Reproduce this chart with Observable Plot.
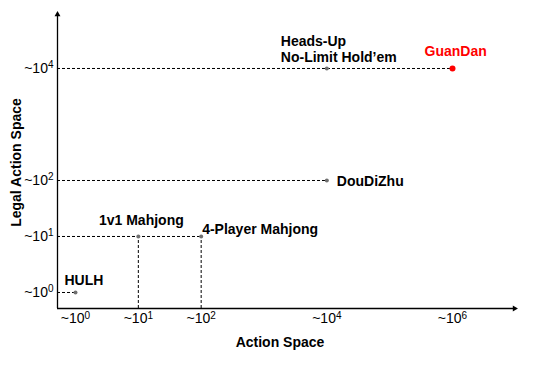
<!DOCTYPE html>
<html><head><meta charset="utf-8">
<script src="https://cdn.jsdelivr.net/npm/d3@7"></script>
<script src="https://cdn.jsdelivr.net/npm/@observablehq/plot@0.6"></script>
<style>body{margin:0;background:#fff} svg{display:block}</style>
</head><body><div id="chart"></div>
<script>
// ---- data ----
const games = ["HULH", "1v1 Mahjong", "4-Player Mahjong", "DouDiZhu", "Heads-Up\nNo-Limit Hold’em", "GuanDan"];
const actionSpace = [1, 10, 100, 1e4, 1e4, 1e6];
const legalActionSpace = [1, 10, 10, 100, 1e4, 1e4];
const verticalGuide = [false, true, true, false, false, false];
const xTicks = [1, 10, 100, 1e4, 1e6];
const yTicks = [1, 10, 100, 1e4];
const xTitle = "Action Space";
const yTitle = "Legal Action Space";
const highlight = "GuanDan";

// ---- build table ----
const data = games.map((name, i) => ({name, x: actionSpace[i], y: legalActionSpace[i], v: verticalGuide[i]}));

// axis extents (the drawn axes run a bit past the first/last tick)
const xMin = Math.pow(10, -0.2865), xMax = Math.pow(10, 6.987);
const yMin = Math.pow(10, -0.2857), yMax = Math.pow(10, 4.964);

const font = "'Liberation Sans', Arial, Helvetica, sans-serif";
const labelStyle = {
  "HULH": {textAnchor: "start", dx: -11, dy: -13},
  "1v1 Mahjong": {textAnchor: "middle", dx: 3, dy: -17},
  "4-Player Mahjong": {textAnchor: "start", dx: 1, dy: -8},
  "DouDiZhu": {textAnchor: "start", dx: 10, dy: 0},
  "Heads-Up\nNo-Limit Hold’em": {textAnchor: "start", dx: -46, dy: -20},
  "GuanDan": {textAnchor: "start", dx: -28, dy: -18, fill: "#ff0000"}
};

const fmt = d => "~10^" + Math.round(Math.log10(d));

const labelMarks = data.map(d => Plot.text([d], {
  x: "x", y: "y", text: "name",
  fontWeight: "bold", fontSize: 14, lineHeight: 1.15,
  fill: "#000",
  ...labelStyle[d.name]
}));

const chart = Plot.plot({
  width: 534,
  height: 384,
  marginLeft: 57,
  marginRight: 20,
  marginTop: 14,
  marginBottom: 76,
  style: {fontFamily: font, fontSize: "14px", background: "#fff", color: "#000"},
  x: {type: "log", domain: [xMin, xMax], ticks: xTicks, tickSize: 0, tickPadding: 5, tickFormat: fmt, label: null},
  y: {type: "log", domain: [yMin, yMax], ticks: yTicks, tickSize: 0, tickPadding: 4, tickFormat: fmt, label: null},
  marks: [
    // dashed guides
    Plot.ruleY(data, {y: "y", x1: xMin, x2: "x", stroke: "#000", strokeWidth: 1, strokeDasharray: "3,2"}),
    Plot.ruleX(data.filter(d => d.v), {x: "x", y1: yMin, y2: "y", stroke: "#000", strokeWidth: 1, strokeDasharray: "3,2"}),
    // axes lines with arrowheads
    Plot.ruleY([yMin], {x1: xMin, x2: xMax, stroke: "#000", strokeWidth: 1.3}),
    Plot.ruleX([xMin], {y1: yMin, y2: yMax, stroke: "#000", strokeWidth: 1.3}),
    Plot.dot([{x: xMax, y: yMin}], {x: "x", y: "y", symbol: "triangle", r: 2.2, rotate: 90, fill: "#000", stroke: null}),
    Plot.dot([{x: xMin, y: yMax}], {x: "x", y: "y", symbol: "triangle", r: 2.2, fill: "#000", stroke: null}),
    // points
    Plot.dot(data.filter(d => d.name !== highlight), {x: "x", y: "y", r: 2, fill: "#707070", stroke: null}),
    Plot.dot(data.filter(d => d.name === highlight), {x: "x", y: "y", r: 3, fill: "#ff0000", stroke: null}),
    // labels
    ...labelMarks,
    // axis titles
    Plot.text([xTitle], {frameAnchor: "bottom", textAnchor: "middle", lineAnchor: "middle", dx: -6, dy: 34, fontWeight: "bold", fontSize: 14}),
    Plot.text([yTitle], {frameAnchor: "left", textAnchor: "middle", lineAnchor: "middle", dx: -41, dy: 1, rotate: -90, fontWeight: "bold", fontSize: 14})
  ]
});

// turn "~10^k" tick labels into real superscripts
d3.select(chart).selectAll('g[aria-label$="tick label"] text').each(function() {
  const t = this.textContent;
  const m = t.match(/^(.*)\^(\d+)$/);
  if (!m) return;
  const sel = d3.select(this);
  sel.text(null);
  sel.append("tspan").text(m[1]);
  sel.append("tspan").attr("dy", "-0.45em").attr("font-size", "10px").text(m[2]);
});

document.getElementById("chart").appendChild(chart);
</script>
</body></html>
